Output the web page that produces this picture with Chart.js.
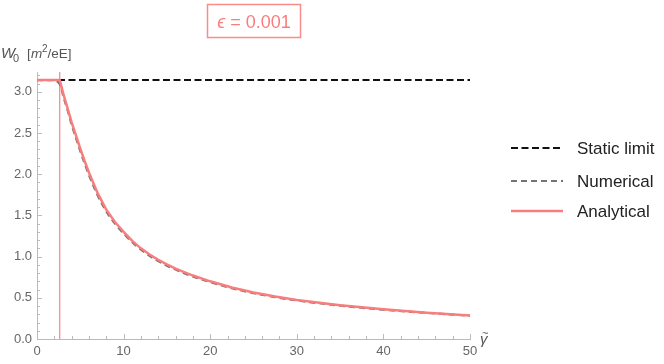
<!DOCTYPE html>
<html lang="en">
<head>
  <meta charset="UTF-8">
  <title>W0 vs gamma, epsilon = 0.001</title>
  <script src="https://cdn.jsdelivr.net/npm/chart.js"></script>
  <style>
    html, body {
      margin: 0;
      padding: 0;
      background: #fff;
    }
    #wrap {
      width: 664px;
      height: 364px;
    }
  </style>
</head>
<body>

  <div id="wrap"><canvas id="w0Chart" width="664" height="364"></canvas></div>

  <script>
    // values
    const gammaAnalytical = [0, 2.62, 3, 3.5, 4, 4.5, 5, 5.5, 6, 7, 8, 9, 10, 11, 12, 13, 14, 15, 16, 18, 20, 22.5, 25, 27.5, 30, 35, 40, 45, 50];
    const w0Analytical = [3.1416, 3.1416, 2.99, 2.81, 2.63, 2.47, 2.31, 2.16, 2.02, 1.77, 1.57, 1.42, 1.30, 1.19, 1.10, 1.025, 0.96, 0.905, 0.855, 0.77, 0.70, 0.625, 0.565, 0.515, 0.474, 0.41, 0.36, 0.32, 0.285];

    const gammaNumerical = [0, 2, 2.4, 2.8, 3, 3.5, 4, 4.5, 5, 5.5, 6, 7, 8, 9, 10, 11, 12, 13, 14, 15, 16, 18, 20, 22.5, 25, 27.5, 30, 35, 40, 45, 50];
    const w0Numerical = [3.1416, 3.14, 3.12, 3.05, 2.96, 2.79, 2.60, 2.44, 2.28, 2.13, 1.99, 1.745, 1.55, 1.40, 1.28, 1.175, 1.085, 1.01, 0.945, 0.89, 0.842, 0.758, 0.69, 0.616, 0.557, 0.508, 0.468, 0.405, 0.356, 0.317, 0.283];

    const staticLimit = Math.PI;
    const gammaCut = 2.62;

    const xRange = [0, 50];
    const yRange = [0, 3.24];
    const xTicks = [0, 10, 20, 30, 40, 50];
    const yTicks = [0, 0.5, 1, 1.5, 2, 2.5, 3];
    const xMinorStep = 2;
    const yMinorStep = 0.1;

    const seriesNames = ['Static limit', 'Numerical', 'Analytical'];
    const epsilonText = '0.001';

    const FONT = "'Liberation Sans', Arial, sans-serif";
    const RED = 'rgb(250, 125, 125)';
    const GRAY = 'rgb(115, 115, 115)';
    const AXIS = '#bbbbbb';

    function toPoints(xs, ys) {
      return xs.map((x, i) => ({ x: x, y: ys[i] }));
    }

    // ticks inside the frame, legend, title box and axis labels
    const decorations = {
      id: 'decorations',
      afterDraw(chart) {
        const ctx = chart.ctx;
        const xs = chart.scales.x;
        const ys = chart.scales.y;
        const area = chart.chartArea;

        ctx.save();
        ctx.strokeStyle = AXIS;
        ctx.lineWidth = 1;

        // x ticks
        for (let v = xRange[0]; v <= xRange[1] + 1e-9; v += xMinorStep) {
          if (v === 0) continue;
          const px = Math.round(xs.getPixelForValue(v)) + 0.5;
          const len = (v % 10 === 0) ? 5 : 3;
          ctx.beginPath();
          ctx.moveTo(px, area.bottom);
          ctx.lineTo(px, area.bottom - len);
          ctx.stroke();
        }
        // y ticks
        for (let i = 1; i * yMinorStep <= yRange[1]; i++) {
          const v = i * yMinorStep;
          const py = Math.round(ys.getPixelForValue(v)) + 0.5;
          const len = (i % 5 === 0) ? 5 : 3;
          ctx.beginPath();
          ctx.moveTo(area.left, py);
          ctx.lineTo(area.left + len, py);
          ctx.stroke();
        }

        // legend
        const legendRows = [
          { name: seriesNames[0], color: '#111', dash: [7, 3.5], width: 2 },
          { name: seriesNames[1], color: GRAY, dash: [6, 4], width: 2 },
          { name: seriesNames[2], color: RED, dash: [], width: 2.4 }
        ];
        const legendY = [148, 181, 211];
        legendRows.forEach((row, i) => {
          ctx.strokeStyle = row.color;
          ctx.lineWidth = row.width;
          ctx.setLineDash(row.dash);
          ctx.beginPath();
          ctx.moveTo(511, legendY[i]);
          ctx.lineTo(563, legendY[i]);
          ctx.stroke();
          ctx.setLineDash([]);
          ctx.fillStyle = '#222';
          ctx.font = '17px ' + FONT;
          ctx.textBaseline = 'middle';
          ctx.textAlign = 'left';
          ctx.fillText(row.name, 577, legendY[i] + 1);
        });

        // epsilon title box
        ctx.strokeStyle = 'rgb(250, 140, 140)';
        ctx.lineWidth = 1.5;
        ctx.strokeRect(207.5, 4.5, 93, 33);
        ctx.fillStyle = RED;
        ctx.textBaseline = 'alphabetic';
        ctx.font = 'italic 18px ' + FONT;
        const epsW = ctx.measureText('ϵ').width;
        ctx.font = '18px ' + FONT;
        const restW = ctx.measureText(' = ' + epsilonText).width;
        let tx = 254 - (epsW + restW) / 2;
        ctx.font = 'italic 18px ' + FONT;
        ctx.fillText('ϵ', tx, 28);
        ctx.font = '18px ' + FONT;
        ctx.fillText(' = ' + epsilonText, tx + epsW, 28);

        // y axis title: W_0 [m^2/eE]
        ctx.fillStyle = '#555';
        ctx.font = 'italic 15px ' + FONT;
        ctx.fillText('W', 1, 58);
        ctx.font = '11px ' + FONT;
        ctx.fillText('0', 13, 62);
        ctx.font = '13.5px ' + FONT;
        ctx.fillText('[', 27, 58);
        ctx.font = 'italic 13.5px ' + FONT;
        ctx.fillText('m', 31, 58);
        ctx.font = '10px ' + FONT;
        ctx.fillText('2', 42, 52);
        ctx.font = '13.5px ' + FONT;
        ctx.fillText('/eE]', 47.5, 58);

        // x axis title: gamma tilde
        ctx.font = 'italic 15px ' + FONT;
        ctx.fillText('γ', 480, 344);
        ctx.font = '11px ' + FONT;
        ctx.fillText('~', 482, 337);

        ctx.restore();
      }
    };

    const ctx = document.getElementById('w0Chart').getContext('2d');
    const w0Chart = new Chart(ctx, {
      type: 'line',
      data: {
        datasets: [
          {
            label: seriesNames[2],
            data: toPoints(gammaAnalytical, w0Analytical),
            borderColor: RED,
            borderWidth: 2.5,
            pointRadius: 0,
            tension: 0,
            order: 1
          },
          {
            label: seriesNames[1],
            data: toPoints(gammaNumerical, w0Numerical),
            borderColor: GRAY,
            borderWidth: 2.2,
            borderDash: [6, 4],
            pointRadius: 0,
            cubicInterpolationMode: 'monotone',
            order: 2
          },
          {
            label: seriesNames[0],
            data: toPoints(xRange, [staticLimit, staticLimit]),
            borderColor: '#111',
            borderWidth: 2,
            borderDash: [7, 3.5],
            pointRadius: 0,
            order: 3
          },
          {
            label: 'cut',
            data: toPoints([gammaCut, gammaCut], yRange),
            borderColor: 'rgb(250, 140, 140)',
            borderWidth: 1.3,
            pointRadius: 0,
            order: 4
          }
        ]
      },
      options: {
        responsive: false,
        animation: false,
        layout: {
          padding: { top: 72, right: 194, bottom: 0, left: 0 }
        },
        scales: {
          x: {
            type: 'linear',
            min: xRange[0],
            max: xRange[1],
            afterBuildTicks: s => { s.ticks = xTicks.map(v => ({ value: v })); },
            afterFit: s => { s.height = 25; },
            grid: { drawOnChartArea: false, drawTicks: false },
            border: { display: true, color: AXIS },
            ticks: {
              color: '#666',
              font: { size: 13, family: FONT },
              padding: 5,
              maxRotation: 0,
              callback: v => String(v)
            }
          },
          y: {
            type: 'linear',
            min: yRange[0],
            max: yRange[1],
            afterBuildTicks: s => { s.ticks = yTicks.map(v => ({ value: v })); },
            afterFit: s => { s.width = 37; },
            grid: { drawOnChartArea: false, drawTicks: false },
            border: { display: true, color: AXIS },
            ticks: {
              color: '#666',
              font: { size: 13, family: FONT },
              padding: 5,
              callback: v => v.toFixed(1)
            }
          }
        },
        plugins: {
          legend: { display: false },
          tooltip: { enabled: false }
        }
      },
      plugins: [decorations]
    });
  </script>

</body>
</html>
